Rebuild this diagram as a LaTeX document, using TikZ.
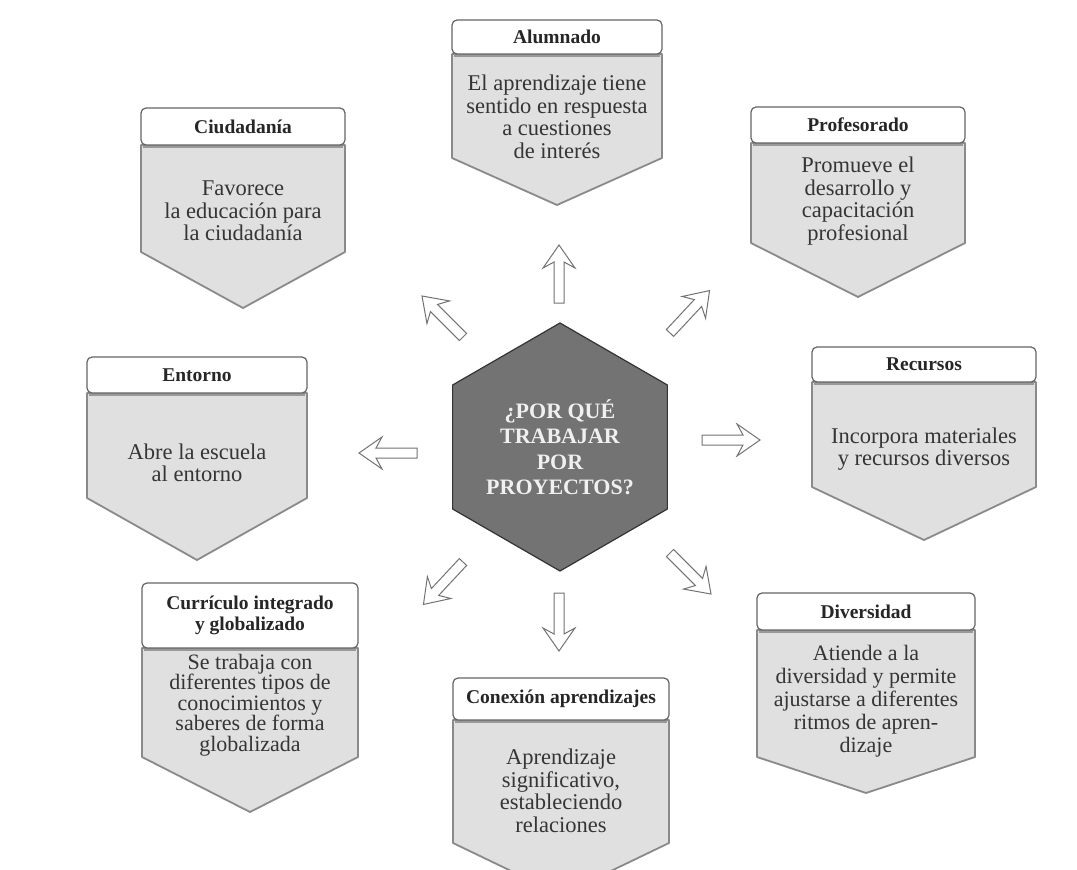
\documentclass[tikz,border=0pt]{standalone}
\usepackage{fontspec}
\setmainfont{Liberation Serif}
\newfontfamily\bodyf{Liberation Serif}
\newfontfamily\headf{Liberation Serif}
\usetikzlibrary{shapes.geometric}
\definecolor{bodyfill}{HTML}{E0E0E0}
\definecolor{bodyline}{HTML}{8A8A8A}
\definecolor{hdrline}{HTML}{646464}
\definecolor{txtgray}{HTML}{353535}
\definecolor{hexfill}{HTML}{737373}
\newcommand\badge[8]{%
  \path[bodyshape] ({#2-#3},#5) -- ({#2-#3},#6) -- (#2,#7) -- ({#2+#3},#6) -- ({#2+#3},#5) -- cycle;
  \draw[black!40, line width=2pt] ({#2-#3+2},{#5+1.5}) -- ({#2+#3-2},{#5+1.5});
  \node[hdr, minimum width={2*#3*1pt}, minimum height={(#5-#4)*1pt}] (#1) at (#2,{(#4+#5)/2}) {#8};
}
\begin{document}
\begin{tikzpicture}[x=1pt,y=-1pt,
  hdr/.style={draw=hdrline, line width=1.2pt, fill=white, rounded corners=5pt, inner sep=0pt,
    font=\headf\bfseries\fontsize{19.5}{21}\selectfont, text=black!85, align=center},
  bodytxt/.style={font=\bodyf\fontsize{22.5}{22.5}\selectfont, text=txtgray, align=center, inner sep=0pt},
  bodyshape/.style={draw=bodyline, line width=1.8pt, fill=bodyfill, line join=round},
  barrowline/.style={draw=black!55, fill=white, line width=1pt, line join=miter},
  barrow/.pic={\path[barrowline] (0,-5)--(41,-5)--(35,-16)--(58,0)--(35,16)--(41,5)--(0,5)--cycle;},
  hexstyle/.style={regular polygon, regular polygon sides=6, shape border rotate=30,
    minimum size=248pt, inner sep=0pt, draw=black!80, line width=1.2pt, fill=hexfill,
    text=white!94!black, align=center, font=\bfseries\fontsize{22}{25.5}\selectfont}
]
\useasboundingbox (0,0) rectangle (1077,870);
\clip (0,0) rectangle (1077,870);
\fill[white] (0,0) rectangle (1077,870);

% badges
\badge{ciud}{243}{102}{108}{145}{252}{308}{Ciudadanía}
\node[bodytxt] (ciudT) at (243,211) {Favorece\\la educación para\\la ciudadanía};

\badge{alum}{557}{105}{20}{54}{158}{205}{Alumnado}
\node[bodytxt] (alumT) at (557,117) {El aprendizaje tiene\\sentido en respuesta\\a cuestiones\\de interés};

\badge{prof}{858}{107}{107}{143}{243}{297}{Profesorado}
\node[bodytxt] (profT) at (858,201) {Promueve el\\desarrollo y\\capacitación\\profesional};

\badge{ent}{197}{110}{357}{393}{498}{560}{Entorno}
\node[bodytxt] (entT) at (197,463) {Abre la escuela\\al entorno};

\badge{rec}{924}{112}{347}{382}{487}{540}{Recursos}
\node[bodytxt] (recT) at (924,449) {Incorpora materiales\\y recursos diversos};

\badge{curr}{250}{108}{583}{648}{757}{812}{Currículo integrado\\y globalizado}
\node[bodytxt, font=\bodyf\fontsize{22}{20.5}\selectfont] (currT) at (250,705) {Se trabaja con\\diferentes tipos de\\conocimientos y\\saberes de forma\\globalizada};

\badge{con}{561}{108}{678}{720}{843}{895}{Conexión aprendizajes}
\node[bodytxt] (conT) at (561,791) {Aprendizaje\\significativo,\\estableciendo\\relaciones};

\badge{div}{866}{109}{593}{630}{757}{793}{Diversidad}
\node[bodytxt, font=\bodyf\fontsize{22}{23}\selectfont] (divT) at (866,701) {Atiende a la\\diversidad y permite\\ajustarse a diferentes\\ritmos de apren-\\dizaje};

% centre
\node[hexstyle] (hex) at (560,447) {¿POR QUÉ\\TRABAJAR\\POR\\PROYECTOS?};

% block arrows
\coordinate (aN)  at (559,303);
\coordinate (aNW) at (463,337);
\coordinate (aNE) at (670,333);
\coordinate (aW)  at (417,453);
\coordinate (aE)  at (702,440);
\coordinate (aSW) at (463,562);
\coordinate (aS)  at (559,593);
\coordinate (aSE) at (670,553);
\pic[rotate=90]  at (aN)  {barrow};
\pic[rotate=135] at (aNW) {barrow};
\pic[rotate=47]  at (aNE) {barrow};
\pic[rotate=180] at (aW)  {barrow};
\pic[rotate=0]   at (aE)  {barrow};
\pic[rotate=227] at (aSW) {barrow};
\pic[rotate=270] at (aS)  {barrow};
\pic[rotate=-45] at (aSE) {barrow};
\end{tikzpicture}
\end{document}
